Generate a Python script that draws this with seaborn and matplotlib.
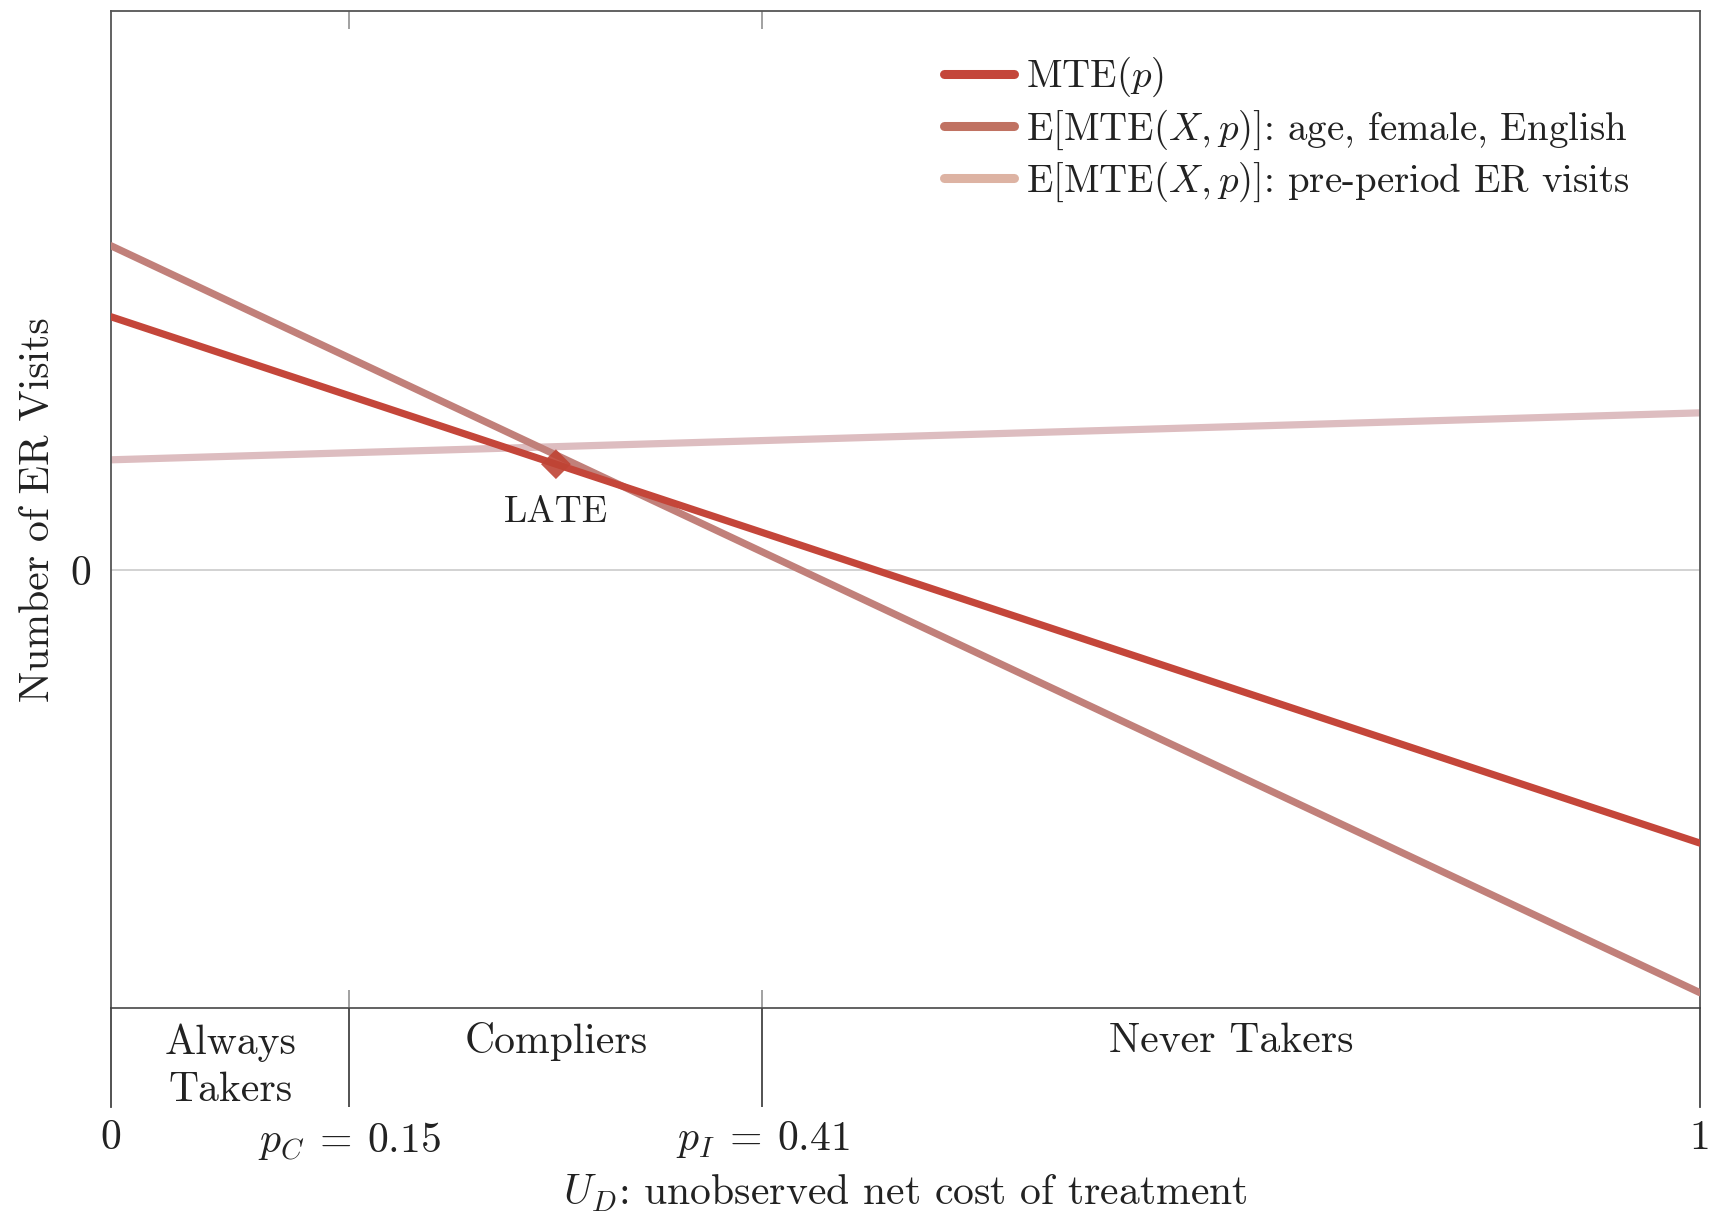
import numpy as np
import pandas as pd
import seaborn as sns
import matplotlib.pyplot as plt
from matplotlib.lines import Line2D

# Marginal treatment effect lines (endpoints over U_D in [0, 1])
u_d = [0.0, 1.0]
mte = [2.32, -2.50]
mte_age_female_english = [2.97, -3.87]
mte_pre_period = [1.01, 1.44]

# Propensity cut-offs and LATE point
p_c = 0.15
p_i = 0.41
late_x = 0.28
late_value = 0.97

group_names = ["Always\nTakers", "Compliers", "Never Takers"]
group_bounds = [0.0, p_c, p_i, 1.0]
xtick_pos = [0.0, p_c, p_i, 1.0]
xtick_labels = ["0", r"$p_C\:=\:0.15$", r"$p_I\:=\:0.41$", "1"]

series_labels = [
    r"MTE$(p)$",
    r"E[MTE$(X, p)$]: age, female, English",
    r"E[MTE$(X, p)$]: pre-period ER visits",
]
line_colors = ["#C4463A", "#C1807A", "#DDBDC0"]
legend_colors = ["#C4463A", "#C07262", "#DDB3A3"]

sns.set_theme(style="white")
plt.rcParams["font.family"] = ["cmr10", "DejaVu Serif"]
plt.rcParams["mathtext.fontset"] = "cm"
plt.rcParams["axes.unicode_minus"] = False
plt.rcParams["axes.formatter.use_mathtext"] = True

FS = 30        # axis labels, ticks, group names
FS_LEG = 28    # legend entries
FS_LATE = 27   # LATE annotation
TXT = "#222222"

W, H = 1712, 1211
fig = plt.figure(figsize=(W / 100, H / 100), dpi=100)

left, right, top, mid, bottom = 111, 1700, 11, 1008, 1107
ax = fig.add_axes([left / W, (H - mid) / H, (right - left) / W, (mid - top) / H])
ax2 = fig.add_axes([left / W, (H - bottom) / H, (right - left) / W, (bottom - mid) / H])

df = pd.concat(
    [
        pd.DataFrame({"u": u_d, "value": vals, "series": lab})
        for vals, lab in zip([mte, mte_age_female_english, mte_pre_period], series_labels)
    ],
    ignore_index=True,
)

ax.axhline(0, color="#CFCFCF", lw=1.3, zorder=0)

# draw lightest first so the MTE line sits on top
for lab, col, z in zip(series_labels[::-1], line_colors[::-1], [2, 3, 4]):
    sub = df[df["series"] == lab]
    sns.lineplot(data=sub, x="u", y="value", color=col, lw=5.2, ax=ax,
                 legend=False, zorder=z)

sns.scatterplot(x=[late_x], y=[late_value], marker="D", s=230, color="#BF4435",
                edgecolor="none", alpha=0.9, ax=ax, zorder=6, legend=False)
ax.annotate("LATE", (late_x, late_value), xytext=(0, -35), textcoords="offset points",
            ha="center", va="center", fontsize=FS_LATE, color=TXT)

ax.set_xlim(0, 1)
ax.set_ylim(-4.01, 5.12)
ax.set_xticks([p_c, p_i])
ax.tick_params(axis="x", which="both", direction="in", top=True, bottom=True,
               labelbottom=False, length=13, width=1.3, color="#9A9A9A")
ax.set_yticks([0])
ax.set_yticklabels(["0"])
ax.tick_params(axis="y", length=0, pad=14, labelsize=FS, labelcolor=TXT)
ax.set_xlabel("")
ax.set_ylabel("Number of ER Visits", fontsize=FS, color=TXT, labelpad=10)
for s in ax.spines.values():
    s.set_color("#555555")
    s.set_linewidth(1.3)
    s.set_visible(True)

handles = [Line2D([0], [0], color=c, lw=6.5) for c in legend_colors]
ax.legend(handles, series_labels, loc="upper left",
          bbox_to_anchor=((944 - left) / (right - left), (mid - 55) / (mid - top)),
          frameon=False, fontsize=FS_LEG, handlelength=1.8, handletextpad=0.3,
          labelspacing=0.21, borderpad=0, borderaxespad=0, labelcolor=TXT)

# Group band below the plot
ax2.set_xlim(0, 1)
ax2.set_ylim(0, 1)
for b in [p_c, p_i]:
    ax2.axvline(b, color="#444444", lw=1.3)
for name, lo, hi in zip(group_names, group_bounds[:-1], group_bounds[1:]):
    yy = 0.41 if "\n" in name else 0.66
    ax2.text((lo + hi) / 2, yy, name, ha="center", va="center", fontsize=FS,
             color=TXT, linespacing=1.32)
ax2.set_yticks([])
ax2.set_xticks(xtick_pos)
ax2.set_xticklabels(xtick_labels)
ax2.tick_params(axis="x", length=0, pad=9, labelsize=FS, labelcolor=TXT)
ax2.set_xlabel(r"$U_D$: unobserved net cost of treatment", fontsize=FS,
               color=TXT, labelpad=8)
ax2.spines["top"].set_visible(False)
ax2.spines["bottom"].set_visible(False)
for sname in ["left", "right"]:
    ax2.spines[sname].set_color("#444444")
    ax2.spines[sname].set_linewidth(1.3)
ax2.set_facecolor("none")

fig.savefig("out.png", dpi=100)
